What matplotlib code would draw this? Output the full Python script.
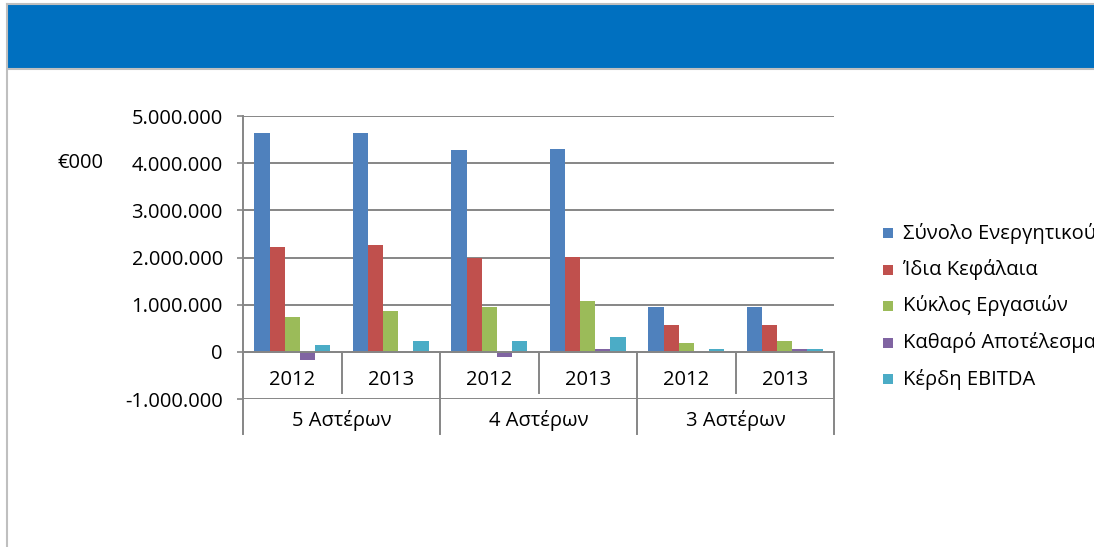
#!/usr/bin/python3

import numpy as np
import matplotlib.pyplot as plt
from matplotlib.patches import Rectangle
from matplotlib.lines import Line2D

plt.rcParams['font.family'] = ['Open Sans', 'DejaVu Sans']

# data (values in €000)
years = ['2012', '2013', '2012', '2013', '2012', '2013']
groups = ['5 Αστέρων', '4 Αστέρων', '3 Αστέρων']
series_names = ['Σύνολο Ενεργητικού', 'Ίδια Κεφάλαια', 'Κύκλος Εργασιών',
                'Καθαρό Αποτέλεσμα', 'Κέρδη EBITDA']
total_assets = [4650000, 4650000, 4270000, 4310000, 950000, 950000]
equity = [2230000, 2270000, 1980000, 2020000, 570000, 570000]
turnover = [740000, 870000, 950000, 1080000, 185000, 230000]
net_result = [-170000, -10000, -120000, 60000, -10000, 50000]
ebitda = [140000, 230000, 230000, 310000, 60000, 60000]
colors = ['#4F81BD', '#C0504D', '#9BBB59', '#8064A2', '#4BACC6']

W, H = 1094, 547
GRID = '#868686'
FS = 14.5

def fx(px):
    return px / W

def fy(py):
    return 1 - py / H

def main():
    fig = plt.figure(figsize=(W / 100, H / 100), dpi=100)

    # frame and blue header band
    fig.add_artist(Rectangle((fx(8), fy(68)), 1.01 - fx(8), 63 / H,
                             transform=fig.transFigure, color='#0070C0', lw=0))
    fig.add_artist(Line2D([fx(7), fx(7)], [fy(4), 0], transform=fig.transFigure,
                          color='#BFBFBF', lw=1.5))
    fig.add_artist(Line2D([fx(7), 1], [fy(4), fy(4)], transform=fig.transFigure,
                          color='#BFBFBF', lw=1.5))
    fig.add_artist(Line2D([fx(8), 1], [fy(69), fy(69)], transform=fig.transFigure,
                          color='#BFBFBF', lw=1.5))

    ax = fig.add_axes([fx(243), fy(399), fx(834) - fx(243), (399 - 116) / H])
    x = np.arange(len(years))
    w = 1 / 6.5
    series = [total_assets, equity, turnover, net_result, ebitda]
    for i, (vals, c) in enumerate(zip(series, colors)):
        ax.bar(x + (i - 2) * w, vals, width=w, color=c, lw=0, zorder=2)

    ax.set_xlim(-0.5, 5.5)
    ax.set_ylim(-1e6, 5e6)
    ticks = np.arange(-1e6, 5e6 + 1, 1e6)
    ax.set_yticks(ticks)
    ax.set_yticklabels(['{:,.0f}'.format(t).replace(',', '.') for t in ticks])
    ax.yaxis.grid(True, color=GRID, lw=1.4)
    ax.set_axisbelow(True)
    ax.set_xticks([])
    for s in ['top', 'right', 'bottom', 'left']:
        ax.spines[s].set_visible(False)
    ax.tick_params(axis='y', length=4.5, width=1.2, color=GRID, pad=10,
                   labelsize=FS, labelcolor='#000000')

    low = -1.745e6
    ax.plot([-0.5, -0.5], [5e6, low], color=GRID, lw=1.4, clip_on=False, zorder=3)
    ax.axhline(0, color=GRID, lw=1.4, zorder=3)
    # category boxes
    for b in [0.5, 2.5, 4.5]:
        ax.plot([b, b], [0, -0.88e6], color=GRID, lw=1.4, clip_on=False)
    for b in [1.5, 3.5, 5.5]:
        ax.plot([b, b], [0, low], color=GRID, lw=1.4, clip_on=False)
    for i, yr in enumerate(years):
        ax.text(x[i], -0.6e6, yr, ha='center', va='center', fontsize=FS)
    for j, g in enumerate(groups):
        ax.text(2 * j + 0.5, -1.46e6, g, ha='center', va='center', fontsize=FS)

    fig.text(fx(80), fy(163), '€000', ha='center', va='center', fontsize=FS)

    # legend
    for i, (name, c) in enumerate(zip(series_names, colors)):
        yc = 233 + 36.5 * i
        fig.add_artist(Rectangle((fx(883), fy(yc + 5)), 10 / W, 10 / H,
                                 transform=fig.transFigure, color=c, lw=0))
        fig.text(fx(903), fy(yc), name, ha='left', va='center', fontsize=FS)

    plt.savefig('out.png', dpi=100)
    return

if __name__ == '__main__':
    main()
